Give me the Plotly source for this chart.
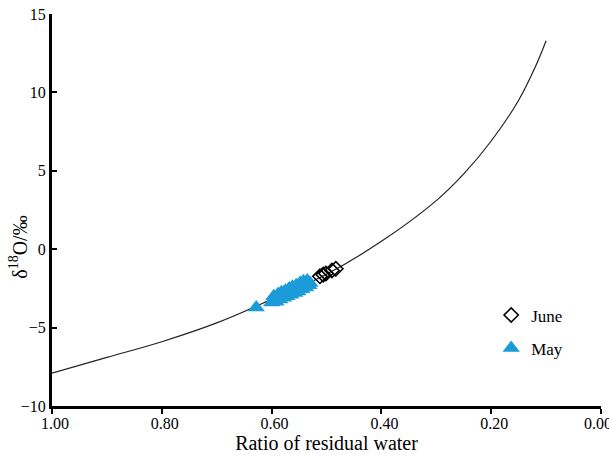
import plotly.graph_objects as go

# Rayleigh curve
curve_f = [1.00, 0.90, 0.80, 0.70, 0.60, 0.50, 0.40, 0.30, 0.25, 0.20, 0.15, 0.12, 0.10]
curve_d = [-7.9, -6.9, -5.9, -4.7, -3.2, -1.6, 0.5, 3.1, 4.8, 6.9, 9.5, 11.6, 13.3]

# June samples
june_f = [0.512, 0.506, 0.501, 0.490, 0.483]
june_d = [-1.73, -1.62, -1.55, -1.36, -1.25]

# May samples
may_f = [0.628, 0.600, 0.596, 0.592, 0.588, 0.585, 0.582, 0.578, 0.575, 0.572, 0.568,
         0.565, 0.562, 0.558, 0.555, 0.552, 0.548, 0.545, 0.542, 0.538, 0.535, 0.532, 0.530]
may_d = [-3.72, -3.40, -3.00, -3.35, -2.85, -3.20, -2.75, -3.10, -2.65, -3.00, -2.50,
         -2.90, -2.40, -2.80, -2.30, -2.70, -2.15, -2.55, -2.05, -2.45, -2.00, -2.30, -2.15]

x_ticks = [1.0, 0.8, 0.6, 0.4, 0.2, 0.0]
x_tick_labels = ["1.00", "0.80", "0.60", "0.40", "0.20", "0.00\u00a0\u00a0\u00a0"]
y_ticks = [-10, -5, 0, 5, 10, 15]

FONT = "Liberation Serif, Times New Roman, serif"
BLUE = "#1b9bd7"

fig = go.Figure()
fig.add_trace(go.Scatter(x=curve_f, y=curve_d, mode="lines", line=dict(color="#222222", width=1.2, shape="spline"),
                         showlegend=False, hoverinfo="skip"))
fig.add_trace(go.Scatter(x=june_f, y=june_d, mode="markers", name="June", legendgroup="june",
                         marker=dict(symbol="diamond-open", size=11, color="black", line=dict(width=1.6, color="black"))))
fig.add_trace(go.Scatter(x=may_f, y=may_d, mode="markers", name="May", legendgroup="may",
                         marker=dict(symbol="triangle-up", size=15, color=BLUE, line=dict(width=0))))

fig.update_layout(
    width=609, height=458,
    margin=dict(l=52, r=8, t=14, b=52),
    paper_bgcolor="white", plot_bgcolor="white",
    font=dict(family=FONT, size=16, color="black"),
    legend=dict(x=0.80, y=0.277, xanchor="left", yanchor="top", traceorder="grouped",
                tracegroupgap=8, bgcolor="rgba(0,0,0,0)", font=dict(size=17, family=FONT)),
    annotations=[dict(text="δ<sup>18</sup>O/‰", xref="paper", yref="paper", x=-0.062, y=0.406,
                      xanchor="center", yanchor="middle", textangle=-90, showarrow=False,
                      font=dict(size=20, family=FONT))],
)
fig.update_xaxes(range=[1.0, 0.0], tickvals=x_ticks, ticktext=x_tick_labels, showgrid=False, zeroline=False,
                 showline=True, linewidth=3, linecolor="black", ticks="outside", ticklen=5, tickwidth=2,
                 tickcolor="black", title=dict(text="Ratio of residual water", font=dict(size=20), standoff=2),
                 tickfont=dict(size=16), automargin=False, ticklabeloverflow="allow", ticklabelstandoff=-4,
                 ticklabelshift=-3)
fig.update_yaxes(range=[-10, 15], tickvals=y_ticks, showgrid=False, zeroline=False,
                 showline=True, linewidth=3, linecolor="black", ticks="inside", ticklen=5, tickwidth=2,
                 tickcolor="black", tickfont=dict(size=16), automargin=False, ticklabeloverflow="allow")

fig.write_html("out.html", config={"displayModeBar": False},
               post_script="document.body.style.margin='0px';")
